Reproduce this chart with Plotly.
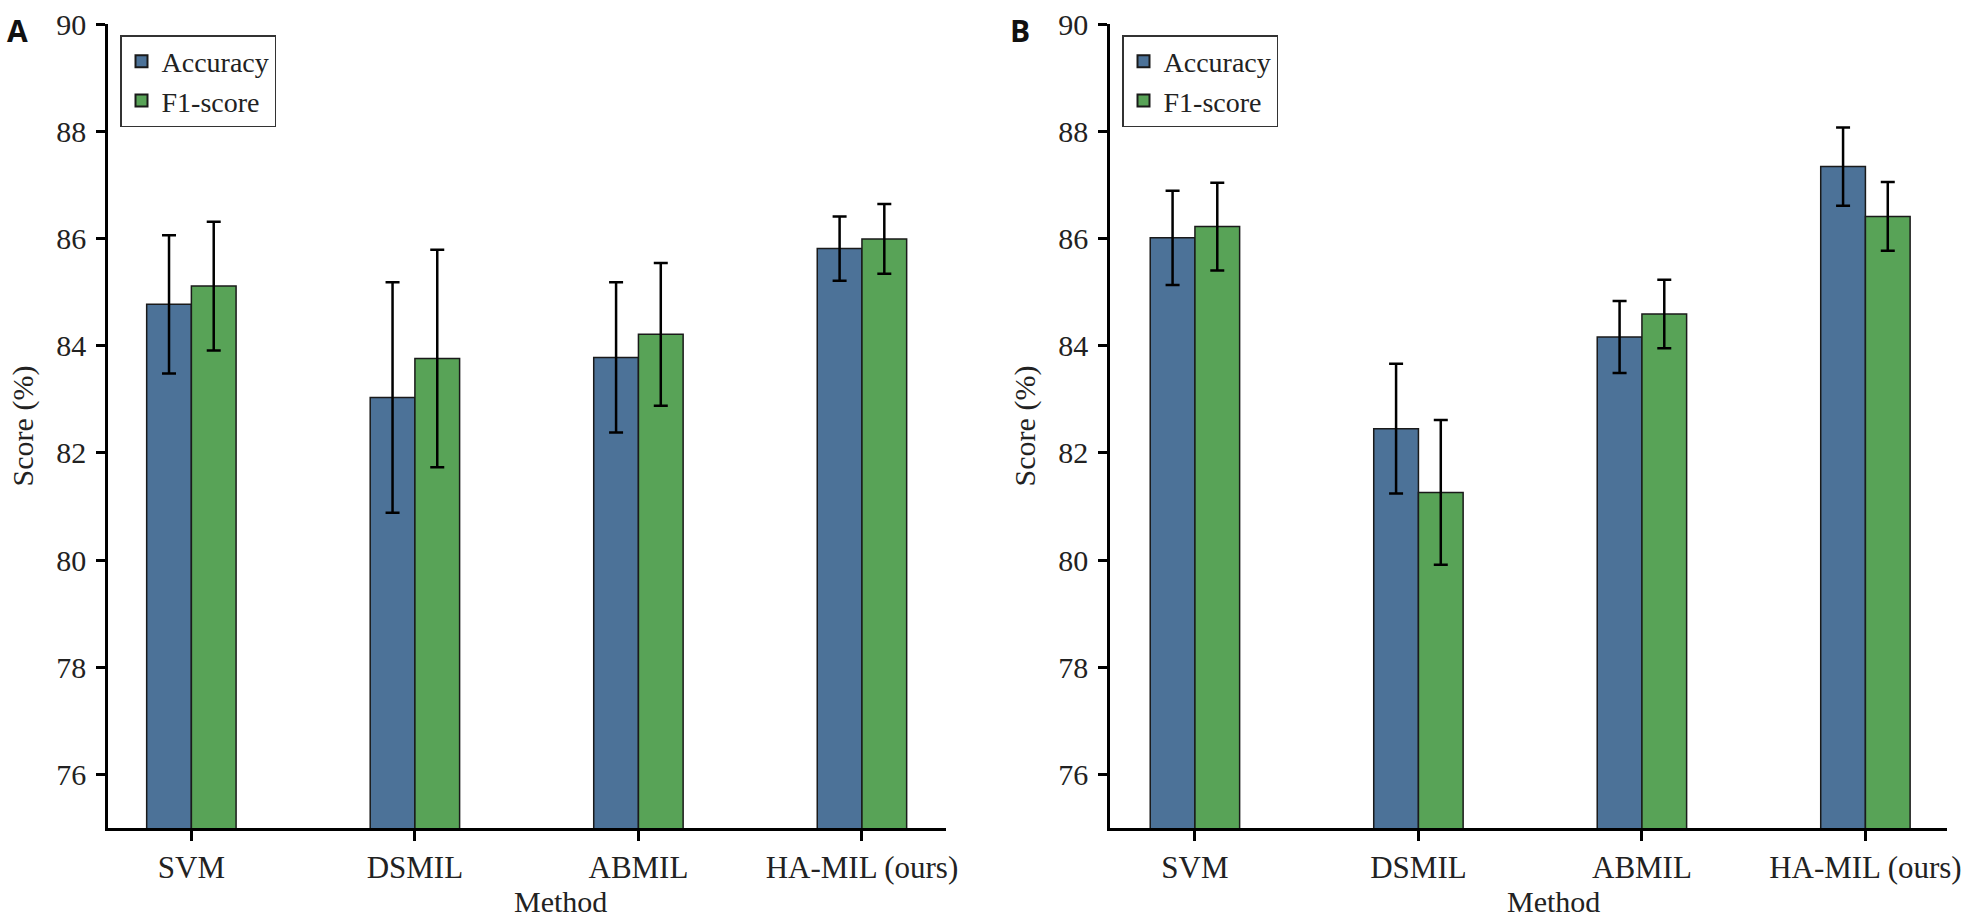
import plotly.graph_objects as go

# Methods on the x axis
methods = ["SVM", "DSMIL", "ABMIL", "HA-MIL (ours)"]

# Panel A scores (%) and error bars
a_acc = [84.77, 83.03, 83.78, 85.81]
a_acc_err = [1.29, 2.15, 1.40, 0.60]
a_f1 = [85.11, 83.76, 84.21, 85.99]
a_f1_err = [1.20, 2.03, 1.33, 0.65]

# Panel B scores (%) and error bars
b_acc = [86.01, 82.45, 84.16, 87.34]
b_acc_err = [0.88, 1.21, 0.67, 0.73]
b_f1 = [86.22, 81.26, 84.59, 86.41]
b_f1_err = [0.82, 1.35, 0.64, 0.64]

y_ticks = [76, 78, 80, 82, 84, 86, 88, 90]

BLUE = "#4c7298"
GREEN = "#58a357"
SERIF = "Liberation Serif"
W, H = 1971, 919


def bar(y, err, name, color, xa, ya, legend):
    return go.Bar(
        x=methods, y=y, name=name,
        marker=dict(color=color, line=dict(color="#1a1a1a", width=1.5)),
        error_y=dict(type="data", array=err, visible=True,
                     color="black", thickness=2.5, width=7),
        xaxis=xa, yaxis=ya, legend=legend,
    )


fig = go.Figure()
fig.add_trace(bar(a_acc, a_acc_err, "Accuracy", BLUE, "x", "y", "legend"))
fig.add_trace(bar(a_f1, a_f1_err, "F1-score", GREEN, "x", "y", "legend"))
fig.add_trace(bar(b_acc, b_acc_err, "Accuracy", BLUE, "x2", "y2", "legend2"))
fig.add_trace(bar(b_f1, b_f1_err, "F1-score", GREEN, "x2", "y2", "legend2"))

y_top = 1 - 24 / H
y_bot = 1 - 828 / H

xcommon = dict(
    type="category", showline=True, linecolor="black", linewidth=2.5,
    ticks="outside", ticklen=10, tickwidth=2.5, tickcolor="black",
    tickfont=dict(family=SERIF, size=31, color="#222"),
    showgrid=False, zeroline=False, automargin=False, fixedrange=True,
)
ycommon = dict(
    range=[75, 90], tickvals=y_ticks, showline=True, linecolor="black",
    linewidth=2.5, ticks="outside", ticklen=9, tickwidth=2.5, tickcolor="black",
    tickfont=dict(family=SERIF, size=30, color="#222"), ticklabelstandoff=4,
    title=dict(text="Score (%)", font=dict(family=SERIF, size=30, color="#222"), standoff=14),
    showgrid=False, zeroline=False, automargin=False, fixedrange=True,
)

legcommon = dict(
    xanchor="left", yanchor="top", bgcolor="white",
    bordercolor="#333", borderwidth=1.5,
    font=dict(family=SERIF, size=28, color="#222"),
    tracegroupgap=0, itemsizing="constant",
)

label_font = dict(family="Open Sans", size=30, color="#111")
title_font = dict(family=SERIF, size=30, color="#222")

fig.update_layout(
    width=W, height=H,
    margin=dict(l=0, r=0, t=0, b=0),
    paper_bgcolor="white", plot_bgcolor="white",
    barmode="group", bargap=0.6, bargroupgap=0,
    showlegend=True,
    xaxis=dict(domain=[108 / W, 946 / W], range=[-0.373, 3.376], anchor="y", **xcommon),
    yaxis=dict(domain=[y_bot, y_top], anchor="x", **ycommon),
    xaxis2=dict(domain=[1110 / W, 1947 / W], range=[-0.38, 3.365], anchor="y2", **xcommon),
    yaxis2=dict(domain=[y_bot, y_top], anchor="x2", **ycommon),
    legend=dict(x=120 / W, y=1 - 35 / H, **legcommon),
    legend2=dict(x=1122 / W, y=1 - 35 / H, **legcommon),
    annotations=[
        dict(text="<b>A</b>", x=5 / W, y=1 - 8 / H, xref="paper", yref="paper",
             xanchor="left", yanchor="top", showarrow=False, font=label_font),
        dict(text="<b>B</b>", x=1008 / W, y=1 - 8 / H, xref="paper", yref="paper",
             xanchor="left", yanchor="top", showarrow=False, font=label_font),
        # x-axis titles
        dict(text="Method", x=560 / W, y=1 - 901 / H, xref="paper", yref="paper",
             xanchor="center", yanchor="middle", showarrow=False, font=title_font),
        dict(text="Method", x=1553 / W, y=1 - 901 / H, xref="paper", yref="paper",
             xanchor="center", yanchor="middle", showarrow=False, font=title_font),
    ],
)

# drop the default page margin so the 1971x919 figure fills the window exactly
fig.write_html(
    "out.html",
    config={"displayModeBar": False},
    post_script="document.body.style.margin='0';document.body.style.overflow='hidden';",
)
